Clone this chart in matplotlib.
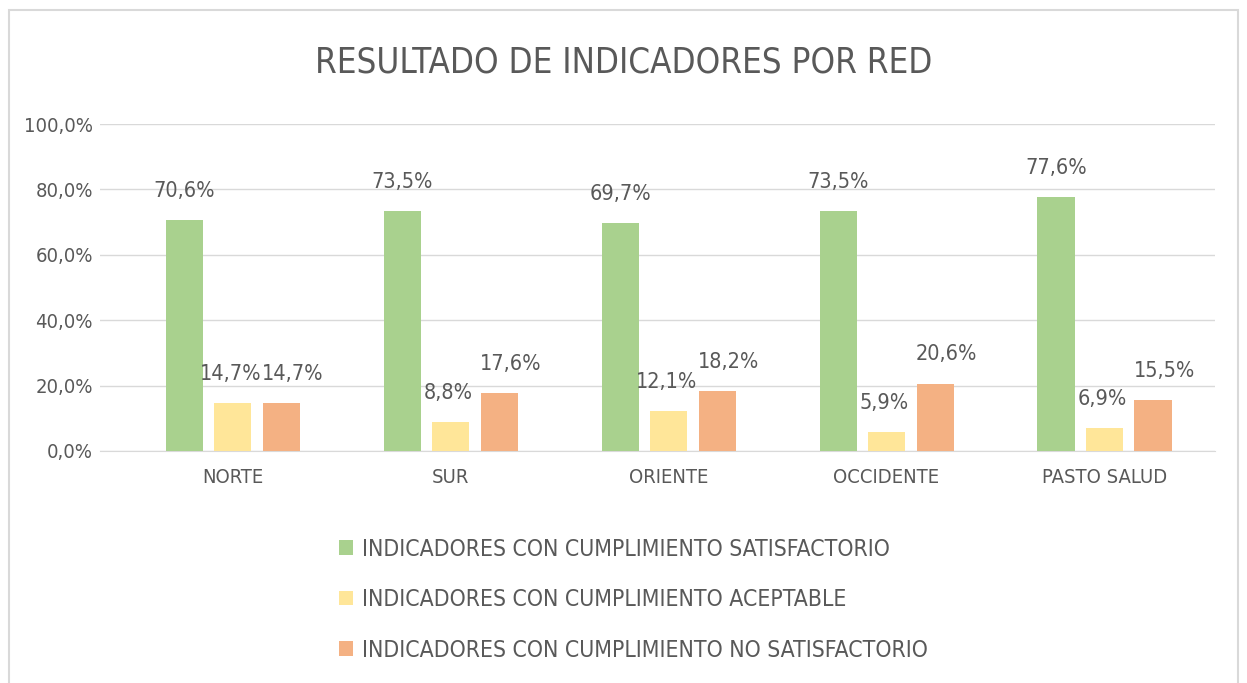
import matplotlib.pyplot as plt
import numpy as np
from matplotlib.patches import Rectangle

plt.rcParams['font.family'] = ['DejaVu Sans']
plt.rcParams['font.stretch'] = 'condensed'

categorias = ["NORTE", "SUR", "ORIENTE", "OCCIDENTE", "PASTO SALUD"]
series = ["INDICADORES CON CUMPLIMIENTO SATISFACTORIO",
          "INDICADORES CON CUMPLIMIENTO ACEPTABLE",
          "INDICADORES CON CUMPLIMIENTO NO SATISFACTORIO"]
satisfactorio = [70.6, 73.5, 69.7, 73.5, 77.6]
aceptable = [14.7, 8.8, 12.1, 5.9, 6.9]
no_satisfactorio = [14.7, 17.6, 18.2, 20.6, 15.5]
colores = ["#A9D18E", "#FFE699", "#F4B183"]
gris = "#595959"

fig = plt.figure(figsize=(12.47, 6.83), dpi=100)
fig.patches.append(Rectangle((0.007, -0.01), 0.986, 0.995, transform=fig.transFigure,
                             fill=False, edgecolor="#D9D9D9", linewidth=1.5))
ax = fig.add_axes([0.080, 0.3397, 0.894, 0.4787])

x = np.arange(len(categorias))
w = 0.17
paso = 0.2225
desp = [0, -1.5, 8]  # small horizontal nudge of the labels per series
handles = []
for k, vals in enumerate([satisfactorio, aceptable, no_satisfactorio]):
    b = ax.bar(x + (k - 1) * paso, vals, w, color=colores[k], label=series[k], zorder=3)
    handles.append(b)
    for xi, v in zip(x + (k - 1) * paso, vals):
        ax.annotate(("%.1f%%" % v).replace(".", ","), (xi, v), xytext=(desp[k], 21),
                    textcoords="offset points", ha="center", va="center",
                    fontsize=15.5, color=gris)

ax.set_ylim(0, 100)
ax.set_xlim(-0.61, 4.505)
ax.set_yticks(np.arange(0, 101, 20))
ax.set_yticklabels([("%.1f%%" % t).replace(".", ",") for t in np.arange(0, 101, 20)],
                   fontsize=14.5, color=gris)
ax.set_xticks(x)
ax.set_xticklabels(categorias, fontsize=14.5, color=gris)
ax.tick_params(length=0, pad=12)
ax.tick_params(axis="y", pad=5)
ax.grid(axis="y", color="#D9D9D9", linewidth=1, zorder=0)
for s in ["top", "right", "left"]:
    ax.spines[s].set_visible(False)
ax.spines["bottom"].set_color("#D9D9D9")

fig.text(0.5, 0.908, "RESULTADO DE INDICADORES POR RED", ha="center", va="center",
         fontsize=25, color=gris)

fig.legend(handles=handles, loc="center", bbox_to_anchor=(0.508, 0.122), ncol=1,
           frameon=False, fontsize=16.5, labelcolor=gris, handlelength=0.6,
           handleheight=0.6, handletextpad=0.4, labelspacing=1.2)

fig.savefig("out.png", dpi=100)
